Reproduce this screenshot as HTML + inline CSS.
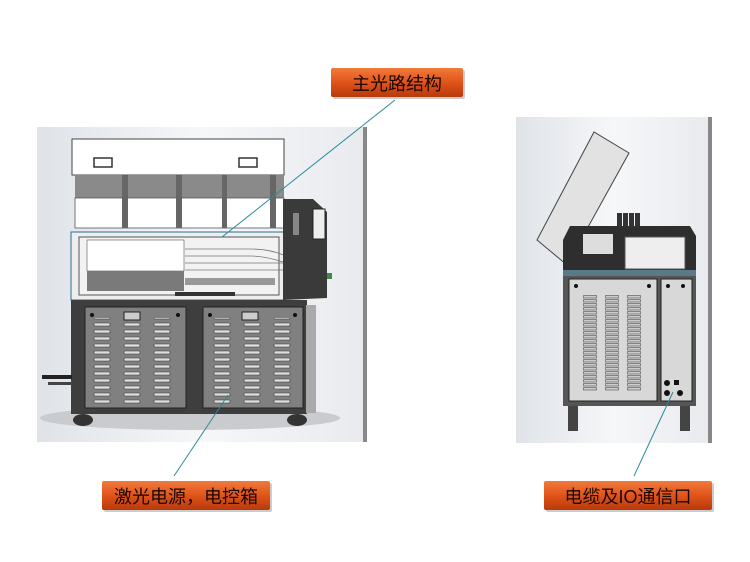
<!DOCTYPE html>
<html><head><meta charset="utf-8"><style>
html,body{margin:0;padding:0;background:#fff;}
svg{display:block;}
text{font-family:"Liberation Sans","Noto Sans CJK SC",sans-serif;}
</style></head><body>
<svg width="750" height="562" viewBox="0 0 750 562" xmlns="http://www.w3.org/2000/svg">
<defs>
<linearGradient id="bg" x1="0" y1="0" x2="1" y2="0">
<stop offset="0" stop-color="#dfe3e8"/><stop offset="0.5" stop-color="#f6f7f9"/><stop offset="1" stop-color="#e8eaee"/></linearGradient>
<linearGradient id="lab" x1="0" y1="0" x2="0" y2="1">
<stop offset="0" stop-color="#f07a3a"/><stop offset="0.5" stop-color="#e0541a"/><stop offset="1" stop-color="#b83a0c"/></linearGradient>
<pattern id="vent" x="0" y="0" width="30" height="7" patternUnits="userSpaceOnUse">
<rect x="4" y="1" width="16" height="3" rx="1" fill="#ddd" stroke="#333" stroke-width="0.6"/></pattern>
<pattern id="vent2" x="583" y="295" width="22" height="4" patternUnits="userSpaceOnUse">
<rect x="0.5" y="0.5" width="13" height="2.5" fill="#ccc" stroke="#333" stroke-width="0.5"/></pattern>
</defs>

<rect x="37" y="127" width="330" height="315" fill="url(#bg)"/>
<rect x="363" y="127" width="4" height="315" fill="#888"/>
<ellipse cx="190" cy="418" rx="150" ry="12" fill="#c9cbce"/>
<rect x="72" y="139" width="212" height="36" fill="#fff" stroke="#444" stroke-width="1"/>
<rect x="94" y="158" width="18" height="9" fill="#fff" stroke="#333" stroke-width="1.5"/>
<rect x="239" y="158" width="18" height="9" fill="#fff" stroke="#333" stroke-width="1.5"/>
<rect x="75" y="175" width="209" height="23" fill="#8a8a8a"/>
<rect x="75" y="198" width="209" height="30" fill="#fff" stroke="#555" stroke-width="0.8"/>
<g fill="#666"><rect x="122" y="175" width="6" height="53"/><rect x="176" y="175" width="6" height="53"/><rect x="222" y="175" width="5" height="53"/><rect x="270" y="175" width="6" height="53"/></g>
<rect x="71" y="232" width="213" height="68" fill="#eee" stroke="#2a7090" stroke-width="1"/>
<rect x="79" y="237" width="200" height="58" fill="#f2f2f2" stroke="#555" stroke-width="1"/>
<rect x="87" y="240" width="97" height="31" fill="#fff" stroke="#555" stroke-width="0.6"/>
<rect x="87" y="271" width="97" height="20" fill="#7a7a7a"/>
<g stroke="#777" stroke-width="0.8" fill="none"><path d="M185 249 H250 Q270 249 283 255"/><path d="M185 256 H250 Q265 256 283 262"/><path d="M185 263 H283"/><path d="M185 270 H283"/></g>
<rect x="185" y="278" width="90" height="7" fill="#999"/>
<rect x="175" y="292" width="60" height="4" fill="#333"/>
<polygon points="283,199 313,199 327,212 327,298 283,300" fill="#3a3a3a"/>
<rect x="313" y="209" width="12" height="30" fill="#eee" stroke="#222"/>
<rect x="293" y="213" width="6" height="22" fill="#888"/>
<rect x="327" y="273" width="5" height="6" fill="#3a8a4a"/>
<rect x="71" y="300" width="236" height="114" fill="#3e3e3e"/>
<rect x="85" y="307" width="101" height="101" fill="#808080" stroke="#222"/>
<rect x="203" y="307" width="100" height="101" fill="#808080" stroke="#222"/>
<rect x="91" y="318" width="90" height="86" fill="url(#vent)"/>
<rect x="209" y="318" width="90" height="86" fill="url(#vent)"/>
<rect x="124" y="312" width="16" height="8" fill="#ccc" stroke="#222"/>
<rect x="242" y="312" width="16" height="8" fill="#ccc" stroke="#222"/>
<g fill="#111"><circle cx="92" cy="315" r="2"/><circle cx="178" cy="315" r="2"/><circle cx="210" cy="315" r="2"/><circle cx="295" cy="315" r="2"/></g>
<rect x="306" y="305" width="10" height="108" fill="#aaa"/>
<rect x="42" y="375" width="30" height="4" fill="#222"/><rect x="48" y="382" width="24" height="3" fill="#444"/>
<ellipse cx="83" cy="420" rx="10" ry="6" fill="#333"/><ellipse cx="297" cy="420" rx="10" ry="6" fill="#333"/>

<rect x="516" y="117" width="196" height="326" fill="url(#bg)"/>
<rect x="708" y="117" width="4" height="326" fill="#888"/>
<polygon points="537,240 594,132 629,153 567,265" fill="#e2e2e2" stroke="#444" stroke-width="1"/>
<polygon points="563,240 570,226 690,226 696,236 696,270 563,270" fill="#2e2e2e"/>
<rect x="583" y="234" width="30" height="20" fill="#ddd"/>
<rect x="625" y="237" width="60" height="32" fill="#eee" stroke="#555"/>
<g fill="#333"><rect x="617" y="213" width="5" height="14"/><rect x="623" y="213" width="5" height="14"/><rect x="629" y="213" width="5" height="14"/><rect x="635" y="213" width="5" height="14"/></g>
<rect x="563" y="270" width="133" height="6" fill="#5a7a88"/>
<rect x="563" y="276" width="133" height="130" fill="#555"/>
<rect x="569" y="279" width="88" height="122" fill="#d8d8d8" stroke="#222"/>
<rect x="661" y="279" width="31" height="122" fill="#d8d8d8" stroke="#222"/>
<rect x="583" y="295" width="58" height="96" fill="url(#vent2)"/>
<g fill="#111"><circle cx="576" cy="286" r="2"/><circle cx="649" cy="286" r="2"/><circle cx="668" cy="286" r="2"/><circle cx="683" cy="286" r="2"/><circle cx="667" cy="383" r="3"/><circle cx="680" cy="393" r="3"/><circle cx="667" cy="393" r="3"/><rect x="674" y="380" width="5" height="5"/></g>
<rect x="568" y="406" width="10" height="25" fill="#444"/><rect x="680" y="406" width="10" height="25" fill="#444"/>

<g stroke="#2a8a9a" stroke-width="1"><line x1="395" y1="100" x2="222" y2="237"/><line x1="228" y1="395" x2="174" y2="476"/><line x1="634" y1="476" x2="673" y2="392"/></g>

<g>
<rect x="333" y="70" width="132" height="29" fill="#999" opacity="0.5" rx="2"/>
<rect x="331" y="68" width="132" height="29" fill="url(#lab)" rx="2"/>
<text x="397" y="90" text-anchor="middle" font-size="18" fill="#1a0500">主光路结构</text>
<rect x="104" y="483" width="168" height="29" fill="#999" opacity="0.5" rx="2"/>
<rect x="102" y="481" width="168" height="29" fill="url(#lab)" rx="2"/>
<text x="186" y="503" text-anchor="middle" font-size="18" fill="#1a0500">激光电源，电控箱</text>
<rect x="546" y="483" width="168" height="29" fill="#999" opacity="0.5" rx="2"/>
<rect x="544" y="481" width="168" height="29" fill="url(#lab)" rx="2"/>
<text x="628" y="503" text-anchor="middle" font-size="18" fill="#1a0500">电缆及IO通信口</text>
</g>
</svg>
</body></html>
